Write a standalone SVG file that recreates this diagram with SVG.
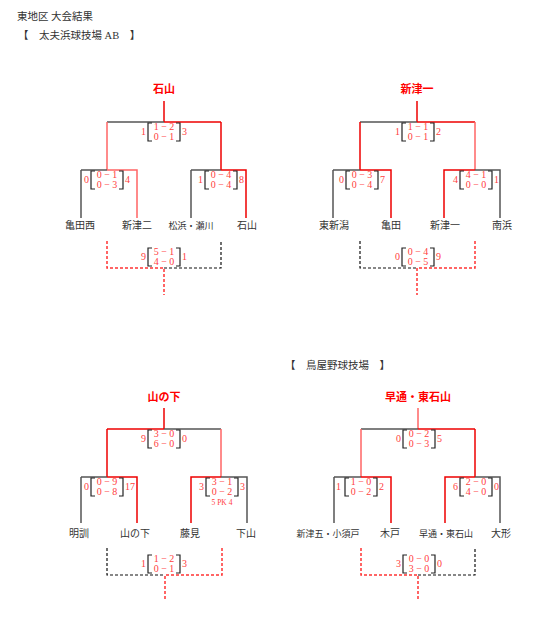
<svg xmlns="http://www.w3.org/2000/svg" width="541" height="627" viewBox="0 0 541 627">
<style>
.t{font-family:"Liberation Serif","Noto Sans CJK JP",serif;font-size:10.5px;fill:#333}
.tm{font-family:"Liberation Serif","Noto Sans CJK JP",serif;font-size:10px;fill:#333;text-anchor:middle}
.ts{font-family:"Liberation Serif","Noto Sans CJK JP",serif;font-size:9px;fill:#333;text-anchor:middle}
.w{font-family:"Noto Sans CJK JP",sans-serif;font-size:11px;font-weight:bold;fill:#f00;text-anchor:middle}
.s{font-family:"Liberation Serif",serif;font-size:10px;fill:#ff4040}
.sm{text-anchor:middle}
.se{text-anchor:end}
.pk{font-family:"Liberation Serif",serif;font-size:7.5px;fill:#ff4040;text-anchor:middle}
.br{fill:none;stroke:#222;stroke-width:1.2}
.k{fill:none;stroke:#555;stroke-width:1.5}
.r{fill:none;stroke:#e00;stroke-width:1.5}
.p{fill:none;stroke:#ff6464;stroke-width:1.5}
.kd{fill:none;stroke:#111;stroke-width:1.2;stroke-dasharray:3 2}
.rd{fill:none;stroke:#f33;stroke-width:1.5;stroke-dasharray:3 2}
</style>
<defs>
<g id="bk"><path class="br" d="M4 0H0V18H4M28 0H32V18H28"/></g>
</defs>

<g id="header">
<text class="t" x="17" y="20">東地区 大会結果</text>
<text class="t" x="18" y="39">【　太夫浜球技場 AB　】</text>
<text class="t" x="285" y="369">【　鳥屋野球技場　】</text>
</g>

<g id="connectors">
<!-- top-left -->
<path class="r" d="M164 101V122"/>
<path class="k" d="M107 122H164"/><path class="r" d="M164 122H221"/>
<path class="p" d="M107 122V170"/><path class="r" d="M221 122V170"/>
<path class="k" d="M81 170H107M81 170V218"/><path class="p" d="M107 170H137V218"/>
<path class="k" d="M191 170H221M191 170V218"/><path class="r" d="M221 170H246V218"/>
<path class="rd" d="M107 241V268H164V295"/><path class="kd" d="M164 268H221V241"/>
<!-- top-right -->
<path class="r" d="M417 101V122"/>
<path class="k" d="M360 122H417"/><path class="r" d="M417 122H475"/>
<path class="r" d="M360 122V170"/><path class="p" d="M475 122V170"/>
<path class="k" d="M333 170H360M333 170V218"/><path class="r" d="M360 170H391V218"/>
<path class="r" d="M444 218V170H475"/><path class="k" d="M475 170H500V218"/>
<path class="kd" d="M360 241V268H417"/><path class="rd" d="M475 241V268H417V295"/>
<!-- bottom-left -->
<path class="r" d="M164 408V429"/>
<path class="r" d="M107 429H164"/><path class="k" d="M164 429H221"/>
<path class="r" d="M107 429V477"/><path class="p" d="M221 429V477"/>
<path class="k" d="M81 477H107M81 477V523"/><path class="r" d="M107 477H137V523"/>
<path class="r" d="M191 523V477H221"/><path class="k" d="M221 477H247V523"/>
<path class="kd" d="M107 548V575H165"/><path class="rd" d="M222 548V575H165V601"/>
<!-- bottom-right -->
<path class="p" d="M418 408V429"/>
<path class="k" d="M361 429H418"/><path class="r" d="M418 429H475"/>
<path class="p" d="M361 429V477"/><path class="r" d="M475 429V477"/>
<path class="k" d="M334 477H361M334 477V523"/><path class="r" d="M361 477H391V523"/>
<path class="r" d="M445 523V477H475"/><path class="k" d="M475 477H500V523"/>
<path class="rd" d="M361 548V575H418V601"/><path class="kd" d="M418 575H475V548"/>
</g>

<!-- winners -->
<g id="win-tl"><text class="w" x="164" y="93">石山</text></g>
<g id="win-tr"><text class="w" x="417" y="93">新津一</text></g>
<g id="win-bl"><text class="w" x="164" y="401">山の下</text></g>
<g id="win-br"><text class="w" x="418" y="401">早通・東石山</text></g>

<!-- teams -->
<g id="team-kameda-nishi"><text class="tm" x="80" y="229">亀田西</text></g>
<g id="team-niitsu2"><text class="tm" x="137" y="229">新津二</text></g>
<g id="team-matsuhama"><text class="ts" x="191" y="229">松浜・瀬川</text></g>
<g id="team-ishiyama"><text class="tm" x="247" y="229">石山</text></g>
<g id="team-higashi-niigata"><text class="tm" x="334" y="229">東新潟</text></g>
<g id="team-kameda"><text class="tm" x="391" y="229">亀田</text></g>
<g id="team-niitsu1"><text class="tm" x="445" y="229">新津一</text></g>
<g id="team-minamihama"><text class="tm" x="502" y="229">南浜</text></g>
<g id="team-meikun"><text class="tm" x="79" y="537">明訓</text></g>
<g id="team-yamanoshita"><text class="tm" x="135" y="537">山の下</text></g>
<g id="team-fujimi"><text class="tm" x="190" y="537">藤見</text></g>
<g id="team-shimoyama"><text class="tm" x="246" y="537">下山</text></g>
<g id="team-niitsu5"><text class="ts" x="328" y="537">新津五・小須戸</text></g>
<g id="team-kido"><text class="tm" x="390" y="537">木戸</text></g>
<g id="team-hayadori"><text class="ts" x="446" y="537">早通・東石山</text></g>
<g id="team-ogata"><text class="tm" x="501" y="537">大形</text></g>

<!-- scores -->
<g id="score-tl-main" transform="translate(148,123)"><use href="#bk"/><text class="s se" x="-2" y="12">1</text><text class="s sm" x="16" y="7">1 − 2</text><text class="s sm" x="16" y="16.6">0 − 1</text><text class="s" x="34" y="12">3</text></g>
<g id="score-tl-a" transform="translate(91,171)"><use href="#bk"/><text class="s se" x="-2" y="12">0</text><text class="s sm" x="16" y="7">0 − 1</text><text class="s sm" x="16" y="16.6">0 − 3</text><text class="s" x="34" y="12">4</text></g>
<g id="score-tl-b" transform="translate(205,171)"><use href="#bk"/><text class="s se" x="-2" y="12">1</text><text class="s sm" x="16" y="7">0 − 4</text><text class="s sm" x="16" y="16.6">0 − 4</text><text class="s" x="34" y="12">8</text></g>
<g id="score-tl-3rd" transform="translate(148,248)"><use href="#bk"/><text class="s se" x="-2" y="12">9</text><text class="s sm" x="16" y="7">5 − 1</text><text class="s sm" x="16" y="16.6">4 − 0</text><text class="s" x="34" y="12">1</text></g>

<g id="score-tr-main" transform="translate(402,123)"><use href="#bk"/><text class="s se" x="-2" y="12">1</text><text class="s sm" x="16" y="7">1 − 1</text><text class="s sm" x="16" y="16.6">0 − 1</text><text class="s" x="34" y="12">2</text></g>
<g id="score-tr-a" transform="translate(346,171)"><use href="#bk"/><text class="s se" x="-2" y="12">0</text><text class="s sm" x="16" y="7">0 − 3</text><text class="s sm" x="16" y="16.6">0 − 4</text><text class="s" x="34" y="12">7</text></g>
<g id="score-tr-b" transform="translate(460,171)"><use href="#bk"/><text class="s se" x="-2" y="12">4</text><text class="s sm" x="16" y="7">4 − 1</text><text class="s sm" x="16" y="16.6">0 − 0</text><text class="s" x="34" y="12">1</text></g>
<g id="score-tr-3rd" transform="translate(402,248)"><use href="#bk"/><text class="s se" x="-2" y="12">0</text><text class="s sm" x="16" y="7">0 − 4</text><text class="s sm" x="16" y="16.6">0 − 5</text><text class="s" x="34" y="12">9</text></g>

<g id="score-bl-main" transform="translate(148,430)"><use href="#bk"/><text class="s se" x="-2" y="12">9</text><text class="s sm" x="16" y="7">3 − 0</text><text class="s sm" x="16" y="16.6">6 − 0</text><text class="s" x="34" y="12">0</text></g>
<g id="score-bl-a" transform="translate(91,478)"><use href="#bk"/><text class="s se" x="-2" y="12">0</text><text class="s sm" x="16" y="7">0 − 9</text><text class="s sm" x="16" y="16.6">0 − 8</text><text class="s" x="34" y="12">17</text></g>
<g id="score-bl-b" transform="translate(206,478)"><use href="#bk"/><text class="s se" x="-2" y="12">3</text><text class="s sm" x="16" y="7">3 − 1</text><text class="s sm" x="16" y="16.6">0 − 2</text><text class="s" x="34" y="12">3</text><text class="pk" x="16" y="27">5 PK 4</text></g>
<g id="score-bl-3rd" transform="translate(148,555)"><use href="#bk"/><text class="s se" x="-2" y="12">1</text><text class="s sm" x="16" y="7">1 − 2</text><text class="s sm" x="16" y="16.6">0 − 1</text><text class="s" x="34" y="12">3</text></g>

<g id="score-br-main" transform="translate(403,430)"><use href="#bk"/><text class="s se" x="-2" y="12">0</text><text class="s sm" x="16" y="7">0 − 2</text><text class="s sm" x="16" y="16.6">0 − 3</text><text class="s" x="34" y="12">5</text></g>
<g id="score-br-a" transform="translate(345,478)"><use href="#bk"/><text class="s se" x="-4" y="12">1</text><text class="s sm" x="16" y="7">1 − 0</text><text class="s sm" x="16" y="16.6">0 − 2</text><text class="s" x="34" y="12">2</text></g>
<g id="score-br-b" transform="translate(460,478)"><use href="#bk"/><text class="s se" x="-2" y="12">6</text><text class="s sm" x="16" y="7">2 − 0</text><text class="s sm" x="16" y="16.6">4 − 0</text><text class="s" x="34" y="12">0</text></g>
<g id="score-br-3rd" transform="translate(403,555)"><use href="#bk"/><text class="s se" x="-2" y="12">3</text><text class="s sm" x="16" y="7">0 − 0</text><text class="s sm" x="16" y="16.6">3 − 0</text><text class="s" x="34" y="12">0</text></g>
</svg>
